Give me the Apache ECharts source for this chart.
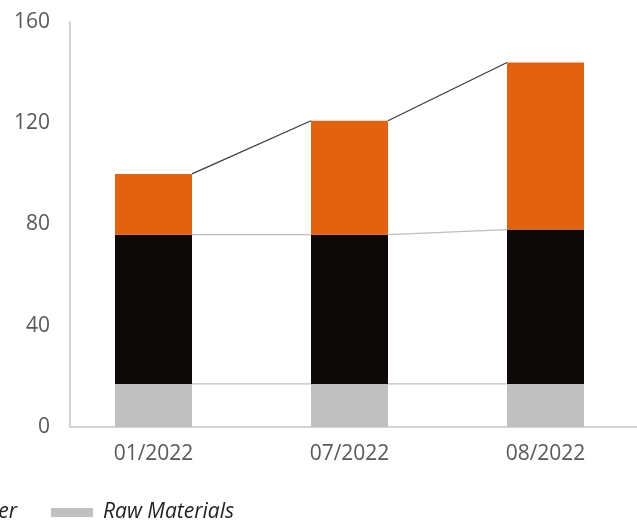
<!DOCTYPE html>
<html>
<head>
<meta charset="utf-8">
<script src="https://cdn.jsdelivr.net/npm/echarts@6/dist/echarts.min.js"></script>
<style>
  html, body { margin: 0; padding: 0; background: #ffffff; }
  #chart { width: 637px; height: 525px; }
</style>
</head>
<body>
<div id="chart"></div>
<script>
// Cost breakdown per period (stacked)
const categories = ['01/2022', '07/2022', '08/2022'];
const rawMaterials = [17, 17, 17];
const other = [59, 59, 61];
const energy = [24, 45, 66];
const yTicks = [0, 40, 80, 120, 160];
const legendNames = ['Energy', 'Other', 'Raw Materials'];

const BAR_W = 77;
const FONT = '"Open Sans", "Liberation Sans", sans-serif';
const LEGEND_FONT_SIZE = 21;
const LEGEND_ICON_W = 42;
const LEGEND_TEXT_GAP = 10;   // 5 built into the legend + 5 of text padding
const LEGEND_ITEM_GAP = 34;

// running tops of each stack layer, used for the connector lines
const topRaw = rawMaterials.slice();
const topOther = rawMaterials.map((v, i) => v + other[i]);
const topTotal = topOther.map((v, i) => v + energy[i]);

// legend runs off the left edge: the last entry's swatch starts at x = 51
const measureCtx = document.createElement('canvas').getContext('2d');
measureCtx.font = 'italic ' + LEGEND_FONT_SIZE + 'px ' + FONT;
let legendLeft = 51;
for (let i = 0; i < legendNames.length - 1; i++) {
  legendLeft -= LEGEND_ICON_W + LEGEND_TEXT_GAP + measureCtx.measureText(legendNames[i]).width + LEGEND_ITEM_GAP;
}

function connector(levels, color, width) {
  return {
    type: 'custom',
    xAxisIndex: 0,
    yAxisIndex: 0,
    silent: true,
    z: 1,
    data: levels.map((v, i) => [i, v, i + 1 < levels.length ? levels[i + 1] : v]),
    encode: { x: 0, y: 1 },
    renderItem: function (params, api) {
      const i = api.value(0);
      if (i >= levels.length - 1) return null;
      const p1 = api.coord([i, api.value(1)]);
      const p2 = api.coord([i + 1, api.value(2)]);
      return {
        type: 'line',
        shape: { x1: p1[0] + BAR_W / 2, y1: p1[1], x2: p2[0] - BAR_W / 2, y2: p2[1] },
        style: { stroke: color, lineWidth: width }
      };
    }
  };
}

const chart = echarts.init(document.getElementById('chart'), null, { renderer: 'canvas' });

chart.setOption({
  animation: false,
  backgroundColor: '#ffffff',
  legend: {
    data: legendNames,
    left: legendLeft,
    top: 502,
    width: 1200,
    padding: 0,
    icon: 'rect',
    itemWidth: LEGEND_ICON_W,
    itemHeight: 9,
    itemGap: LEGEND_ITEM_GAP,
    textStyle: {
      fontFamily: FONT, fontStyle: 'italic', fontSize: LEGEND_FONT_SIZE, color: '#222222',
      padding: [0, 0, 0, LEGEND_TEXT_GAP - 5]
    }
  },
  grid: [
    // plotting grid for the bars (category bands)
    { left: 55.5, top: 22, width: 588, height: 405, outerBoundsMode: 'none', containLabel: false },
    // grid carrying the visible axis lines and value labels
    { left: 70, top: 22, width: 600, height: 405, outerBoundsMode: 'none', containLabel: false }
  ],
  xAxis: [
    {
      type: 'category',
      gridIndex: 0,
      data: categories,
      axisLine: { show: false },
      axisTick: { show: false },
      axisLabel: { fontFamily: FONT, fontSize: 21, color: '#595959', margin: 17 }
    },
    {
      type: 'value',
      gridIndex: 1,
      min: 0,
      max: 1,
      axisLine: { show: true, lineStyle: { color: '#d4d4d4', width: 2 } },
      axisTick: { show: false },
      axisLabel: { show: false },
      splitLine: { show: false }
    }
  ],
  yAxis: [
    {
      type: 'value',
      gridIndex: 0,
      min: yTicks[0],
      max: yTicks[yTicks.length - 1],
      interval: 40,
      show: false
    },
    {
      type: 'value',
      gridIndex: 1,
      min: yTicks[0],
      max: yTicks[yTicks.length - 1],
      interval: 40,
      axisLine: { show: true, lineStyle: { color: '#d4d4d4', width: 2 } },
      axisTick: { show: false },
      splitLine: { show: false },
      axisLabel: { fontFamily: FONT, fontSize: 21, color: '#595959', margin: 20 }
    }
  ],
  series: [
    {
      name: 'Raw Materials', type: 'bar', stack: 'cost', data: rawMaterials,
      xAxisIndex: 0, yAxisIndex: 0, barWidth: BAR_W, itemStyle: { color: '#c0c0c0' }, z: 2
    },
    {
      name: 'Other', type: 'bar', stack: 'cost', data: other,
      xAxisIndex: 0, yAxisIndex: 0, barWidth: BAR_W, itemStyle: { color: '#0c0807' }, z: 2
    },
    {
      name: 'Energy', type: 'bar', stack: 'cost', data: energy,
      xAxisIndex: 0, yAxisIndex: 0, barWidth: BAR_W, itemStyle: { color: '#e36210' }, z: 2
    },
    connector(topRaw, '#bfbfbf', 1.2),
    connector(topOther, '#bfbfbf', 1.2),
    connector(topTotal, '#3a3a3a', 1.2)
  ]
});
</script>
</body>
</html>
